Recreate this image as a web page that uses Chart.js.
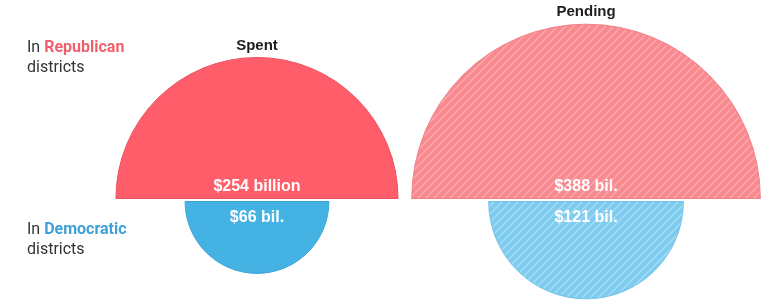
<!DOCTYPE html>
<html>
<head>
<meta charset="utf-8">
<script src="https://cdn.jsdelivr.net/npm/chart.js@4/dist/chart.umd.min.js"></script>
<style>
  html, body { margin: 0; padding: 0; background: #fff; }
  #wrap { width: 768px; height: 304px; }
</style>
</head>
<body>
<div id="wrap"><canvas id="chart" width="768" height="304"></canvas></div>
<script>
// Data
const groups = ['Spent', 'Pending'];
const republican = [254, 388];
const democratic = [66, 121];
const repLabels = ['$254 billion', '$388 bil.'];
const demLabels = ['$66 bil.', '$121 bil.'];

// area-proportional radius, px per sqrt(billion)
const K = 8.85;

function hatch(base, stripe) {
    const c = document.createElement('canvas');
    c.width = 8; c.height = 8;
    const g = c.getContext('2d');
    g.fillStyle = base;
    g.fillRect(0, 0, 8, 8);
    g.strokeStyle = stripe;
    g.lineWidth = 1.4;
    g.beginPath();
    g.moveTo(-2, 10); g.lineTo(10, -2);
    g.moveTo(-6, 6); g.lineTo(6, -6);
    g.moveTo(2, 14); g.lineTo(14, 2);
    g.stroke();
    return g.createPattern(c, 'repeat');
}

const ctx0 = document.getElementById('chart').getContext('2d');
const repColors = ['#ff5d69', hatch('#f8898f', '#fca9ae')];
const demColors = ['#45b2e4', hatch('#7dcbee', '#a6dcf4')];
const repEdge = ['#e9525e', '#f08088'];
const demEdge = ['#3aa3d6', '#74c2e6'];

// draws half discs at the bubble positions computed by the chart
const halfDiscs = {
    id: 'halfDiscs',
    beforeDatasetsDraw(chart) {
        const c = chart.ctx;
        const gap = 1.5;
        c.save();
        chart.data.datasets.forEach((ds, di) => {
            const meta = chart.getDatasetMeta(di);
            meta.data.forEach((el, i) => {
                const r = el.options.radius;
                const up = ds.half === 'top';
                const y = up ? el.y - gap : el.y + gap;
                c.beginPath();
                if (up) c.arc(el.x, y, r, Math.PI, 0);
                else c.arc(el.x, y, r, 0, Math.PI);
                c.closePath();
                c.fillStyle = ds.fills[i];
                c.fill();
                c.lineWidth = 1;
                c.strokeStyle = ds.edges[i];
                c.stroke();

                c.fillStyle = '#fff';
                c.textAlign = 'center';
                c.textBaseline = 'middle';
                c.font = 'bold 16px "Liberation Sans", Arial, sans-serif';
                c.fillText(ds.texts[i], el.x, up ? y - 12 : y + 16);

                if (up) {
                    c.fillStyle = '#1e1e1e';
                    c.font = 'bold 15px "Liberation Sans", Arial, sans-serif';
                    c.fillText(groups[i], el.x, y - r - 12);
                }
            });
        });

        // row labels on the left
        const rows = [
            { word: 'Republican', color: '#f0606c', y: 48 },
            { word: 'Democratic', color: '#3ea2d8', y: 230 }
        ];
        c.textAlign = 'left';
        c.textBaseline = 'middle';
        rows.forEach(row => {
            c.font = '16px Roboto, sans-serif';
            c.fillStyle = '#333';
            c.fillText('In ', 27, row.y);
            const w = c.measureText('In ').width;
            c.font = 'bold 16px Roboto, sans-serif';
            c.fillStyle = row.color;
            c.fillText(row.word, 27 + w, row.y);
            c.font = '16px Roboto, sans-serif';
            c.fillStyle = '#333';
            c.fillText('districts', 27, row.y + 20);
        });
        c.restore();
        return false;
    }
};

new Chart(ctx0, {
    type: 'bubble',
    data: {
        datasets: [{
            label: 'Republican',
            half: 'top',
            fills: repColors,
            edges: repEdge,
            texts: repLabels,
            data: republican.map((v, i) => ({ x: i, y: 0, r: K * Math.sqrt(v) }))
        }, {
            label: 'Democratic',
            half: 'bottom',
            fills: demColors,
            edges: demEdge,
            texts: demLabels,
            data: democratic.map((v, i) => ({ x: i, y: 0, r: K * Math.sqrt(v) }))
        }]
    },
    options: {
        responsive: false,
        animation: false,
        clip: false,
        layout: { padding: 0, autoPadding: false },
        plugins: { legend: { display: false }, tooltip: { enabled: false } },
        scales: {
            x: { type: 'linear', min: -0.781, max: 1.553, display: false },
            y: { type: 'linear', min: -0.52, max: 1, display: false }
        }
    },
    plugins: [halfDiscs]
});
</script>
</body>
</html>
